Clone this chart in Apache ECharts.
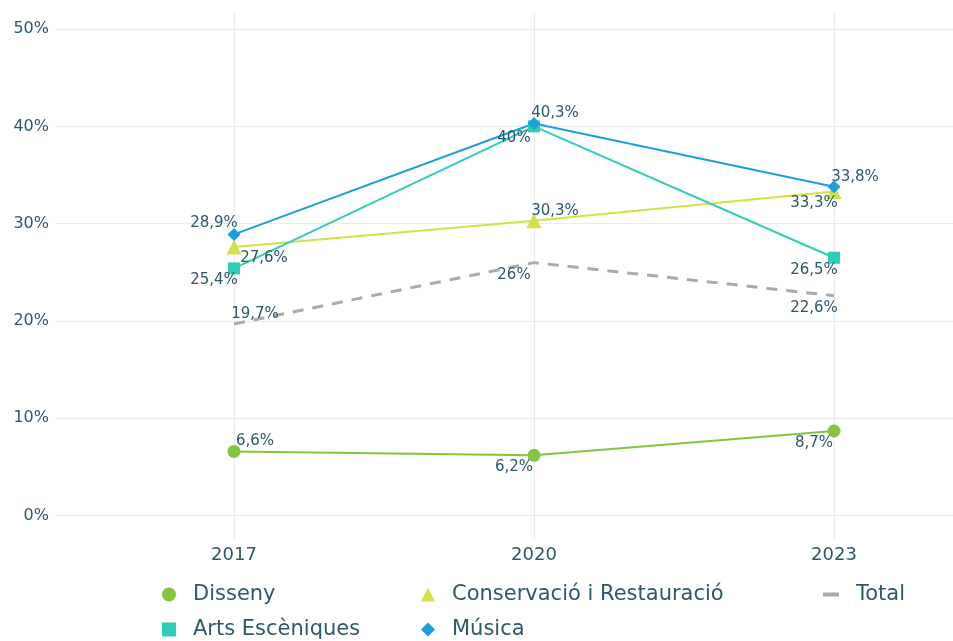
<!DOCTYPE html>
<html>
<head>
<meta charset="utf-8">
<script src="https://cdn.jsdelivr.net/npm/echarts@6/dist/echarts.min.js"></script>
<style>
  html, body { margin: 0; padding: 0; background: #fff; }
  #chart { width: 953px; height: 641px; }
</style>
</head>
<body>
<div id="chart"></div>
<script>
// dades
var years = [2017, 2020, 2023];
var disseny = [6.6, 6.2, 8.7];
var conservacio = [27.6, 30.3, 33.3];
var total = [19.7, 26, 22.6];
var arts = [25.4, 40, 26.5];
var musica = [28.9, 40.3, 33.8];
var yTicks = [0, 10, 20, 30, 40, 50];

var textColor = '#2f5868';
var font = 'DejaVu Sans';

// posicions de les etiquetes (dx, dy respecte del punt)
var TR = [21, -10], TL = [-20, -11], BL = [-20, 12], BR = [30, 11];

function pct(v) {
    return String(v).replace('.', ',') + '%';
}

function buildData(values, offsets) {
    var data = [];
    for (var i = 0; i < years.length; i++) {
        data.push({
            value: [years[i], values[i]],
            label: { offset: offsets[i] }
        });
    }
    return data;
}

function makeSeries(name, values, offsets, color, symbol, size, extra) {
    var s = {
        name: name,
        type: 'line',
        data: buildData(values, offsets),
        symbol: symbol,
        symbolSize: size,
        itemStyle: { color: color },
        lineStyle: { color: color, width: 2 },
        label: {
            show: true,
            position: 'inside',
            color: textColor,
            fontFamily: font,
            fontSize: 15,
            formatter: function (p) { return pct(p.value[1]); }
        },
        emphasis: { disabled: true },
        animation: false
    };
    if (extra) {
        for (var k in extra) s[k] = extra[k];
    }
    return s;
}

var chart = echarts.init(document.getElementById('chart'));

var legendBase = {
    orient: 'vertical',
    top: 583,
    height: 58,
    padding: 0,
    itemWidth: 14,
    itemHeight: 14,
    itemGap: 12,
    textStyle: {
        color: textColor, fontFamily: font, fontSize: 21, lineHeight: 23,
        padding: [0, 0, 0, 12]
    },
    selectedMode: false
};

var option = {
    backgroundColor: '#fff',
    textStyle: { fontFamily: font },
    grid: { left: 55, right: 0, top: 12, bottom: 101 },
    legend: [
        Object.assign({}, legendBase, {
            left: 162,
            data: [{ name: 'Disseny', icon: 'circle' }, { name: 'Arts Escèniques', icon: 'rect' }]
        }),
        Object.assign({}, legendBase, {
            left: 421,
            data: [{ name: 'Conservació i Restauració', icon: 'triangle' }, { name: 'Música', icon: 'diamond' }]
        }),
        Object.assign({}, legendBase, {
            left: 823,
            itemWidth: 16,
            itemHeight: 4,
            data: [{ name: 'Total', icon: 'rect' }]
        })
    ],
    xAxis: {
        type: 'value',
        min: 2015.21,
        max: 2024.19,
        axisLine: { show: false },
        axisTick: { show: false, customValues: years },
        axisLabel: {
            customValues: years,
            color: textColor,
            fontSize: 18,
            margin: 6,
            formatter: function (v) { return String(v); }
        },
        splitLine: { show: true, lineStyle: { color: '#ebebeb', width: 1 } }
    },
    yAxis: {
        type: 'value',
        min: -2.5,
        max: 51.75,
        axisLine: { show: false },
        axisTick: { show: false, customValues: yTicks },
        axisLabel: {
            customValues: yTicks,
            color: textColor,
            fontSize: 16,
            margin: 6,
            formatter: function (v) { return v + '%'; }
        },
        splitLine: { show: true, lineStyle: { color: '#ebebeb', width: 1 } }
    },
    series: [
        makeSeries('Disseny', disseny, [TR, BL, BL], '#86c440', 'circle', 13),
        makeSeries('Conservació i Restauració', conservacio, [BR, TR, BL], '#d3e04a', 'triangle', 15),
        makeSeries('Total', total, [TR, BL, BL], '#aaaaaa', 'circle', 0, {
            lineStyle: { color: '#aaaaaa', width: 3, type: [11, 9] }
        }),
        makeSeries('Arts Escèniques', arts, [BL, BL, BL], '#2fcdb8', 'rect', 12),
        makeSeries('Música', musica, [TL, TR, TR], '#1a9fe0', 'diamond', 13)
    ]
};

chart.setOption(option);
</script>
</body>
</html>
